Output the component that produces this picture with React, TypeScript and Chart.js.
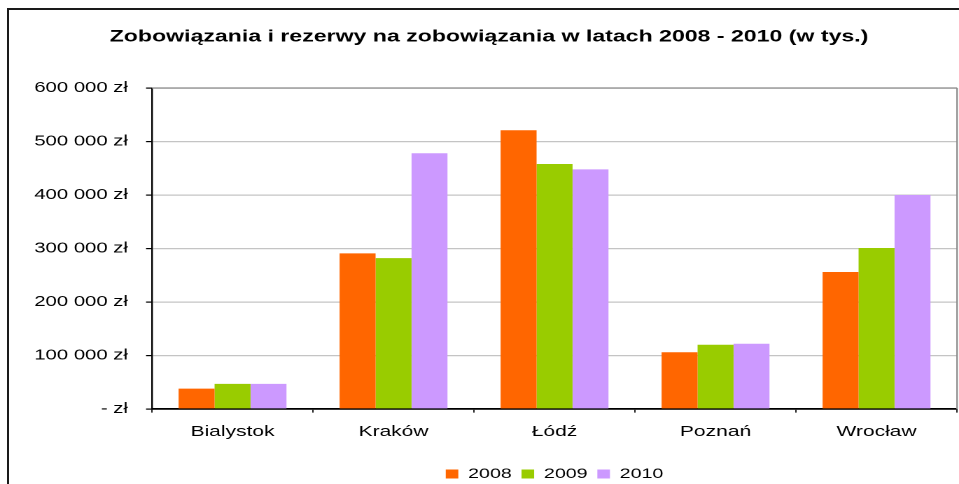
import React, { useEffect, useRef } from 'react';
import { Chart, registerables } from 'chart.js';

Chart.register(...registerables);

const categories = ['Bialystok', 'Kraków', 'Łódź', 'Poznań', 'Wrocław'];
const seriesNames = ['2008', '2009', '2010'];
const values2008 = [38000, 291000, 521000, 106000, 256000];
const values2009 = [47000, 282000, 458000, 120000, 301000];
const values2010 = [47000, 478000, 448000, 122000, 400000];
const seriesColors = ['#FF6600', '#99CC00', '#CC99FF'];
const yTickLabels = ['- zł', '100 000 zł', '200 000 zł', '300 000 zł', '400 000 zł', '500 000 zł', '600 000 zł'];
const titleText = 'Zobowiązania i rezerwy na zobowiązania w latach 2008 - 2010 (w tys.)';

const FONT = "'Liberation Sans', Arial, Helvetica, sans-serif";
const W = 685;
const H = 491;
const S = 959 / W;

const plotFrame = {
  id: 'plotFrame',
  beforeDatasetsDraw(chart: any) {
    const { ctx, chartArea } = chart;
    ctx.save();
    ctx.strokeStyle = '#8a8a8a';
    ctx.lineWidth = 1.3;
    ctx.beginPath();
    ctx.moveTo(chartArea.left, chartArea.top);
    ctx.lineTo(chartArea.right, chartArea.top);
    ctx.stroke();
    ctx.lineWidth = 1.1;
    ctx.beginPath();
    ctx.moveTo(chartArea.right, chartArea.top);
    ctx.lineTo(chartArea.right, chartArea.bottom);
    ctx.stroke();
    ctx.restore();
  },
};

export default function App() {
  const ref = useRef<HTMLCanvasElement>(null);

  useEffect(() => {
    if (!ref.current) return;
    const seriesValues = [values2008, values2009, values2010];
    const chart = new Chart(ref.current, {
      type: 'bar',
      data: {
        labels: categories,
        datasets: seriesNames.map((name, i) => ({
          label: name,
          data: seriesValues[i],
          backgroundColor: seriesColors[i],
          borderWidth: 0,
          categoryPercentage: 0.67,
          barPercentage: 1,
        })),
      },
      options: {
        responsive: false,
        animation: false,
        devicePixelRatio: 2,
        layout: { padding: { left: 15, right: 1.4, top: 0, bottom: 0 } },
        plugins: {
          title: {
            display: true,
            text: titleText,
            color: '#000',
            font: { family: FONT, size: 16.5, weight: 'bold' },
            padding: { top: 27, bottom: 41.2 },
          },
          legend: {
            position: 'bottom',
            fullSize: false,
            labels: {
              boxWidth: 9,
              boxHeight: 9,
              padding: 7,
              color: '#000',
              font: { family: FONT, size: 14 },
            },
          },
          tooltip: { enabled: false },
        },
        scales: {
          x: {
            grid: { display: true, drawOnChartArea: false, drawTicks: true, tickLength: 3.6, color: '#222', lineWidth: 1 },
            border: { display: true, color: '#000', width: 1.7 },
            ticks: { color: '#000', font: { family: FONT, size: 15 }, padding: 10.5 },
            afterFit: (s: any) => { s.height = 51; },
          },
          y: {
            min: 0,
            max: 600000,
            ticks: {
              stepSize: 100000,
              color: '#000',
              font: { family: FONT, size: 14.5 },
              padding: 12.9,
              callback: (_v: any, i: number) => yTickLabels[i],
            },
            grid: { color: '#c4c4c4', lineWidth: 1.2, tickLength: 4.3, tickColor: '#000' },
            border: { display: true, color: '#000', width: 1.2 },
            afterFit: (s: any) => { s.width = 93.6; },
          },
        },
      } as any,
      plugins: [plotFrame],
    });
    return () => chart.destroy();
  }, []);

  return (
    <div style={{ position: 'fixed', left: 0, top: 0, width: 959, height: 484, overflow: 'hidden', background: '#fff' }}>
      <canvas
        ref={ref}
        width={W}
        height={H}
        style={{ display: 'block', width: W, height: H, transform: `scaleX(${S})`, transformOrigin: '0 0' }}
      />
      <div
        style={{
          position: 'absolute',
          left: 7,
          top: 8,
          width: 2000,
          height: 2000,
          borderTop: '2px solid #1a1a1a',
          borderLeft: '2px solid #1a1a1a',
          pointerEvents: 'none',
        }}
      />
    </div>
  );
}
